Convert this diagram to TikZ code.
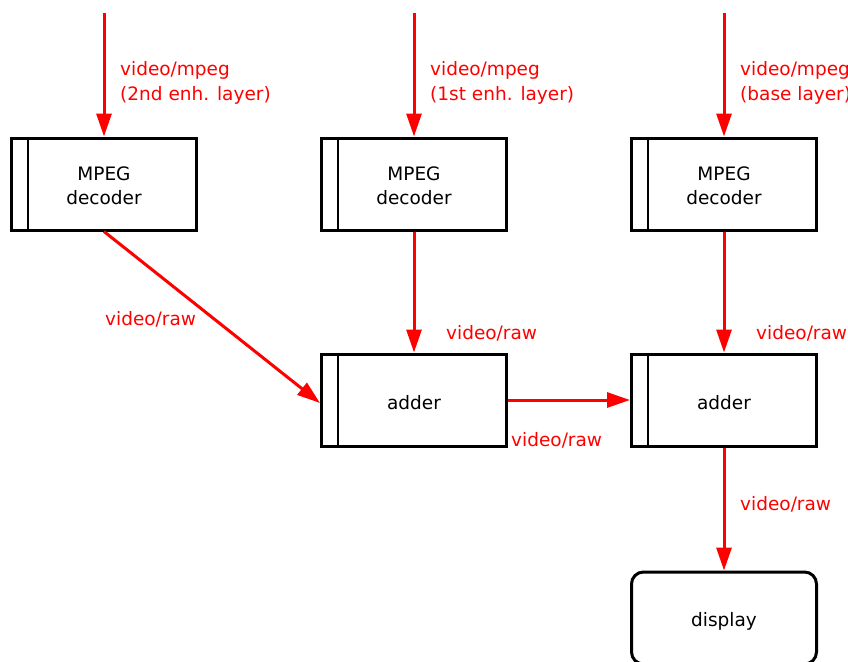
\documentclass[tikz,border=0pt]{standalone}
\usepackage{fontspec}
\setmainfont{DejaVu Sans}
\usetikzlibrary{arrows.meta}
\definecolor{pred}{RGB}{255,0,0}
\newcommand{\dn}[2]{\raisebox{#1}[\height][\depth]{#2}}
\begin{document}
\begin{tikzpicture}[x=1pt,y=-1pt,
  font=\fontsize{18.5}{25.5}\selectfont,
  elem/.style={draw=black,line width=3pt,minimum width=185pt,minimum height=92pt,inner sep=0pt,align=center,fill=white,font=\fontsize{18.5}{24}\selectfont},
  sink/.style={elem,rounded corners=12pt},
  flow/.style={draw=pred,line width=3pt,-{Triangle[length=23pt,width=15pt]}},
  lab/.style={text=pred,anchor=west,align=left,inner sep=0pt}]
\useasboundingbox (0,0) rectangle (848,661);
% elements
\node[elem] (dec1) at (104,184) {\dn{-3.5pt}{\begin{tabular}{@{}c@{}}MPEG\\decoder\end{tabular}}};
\node[elem] (dec2) at (414,184) {\dn{-3.5pt}{\begin{tabular}{@{}c@{}}MPEG\\decoder\end{tabular}}};
\node[elem] (dec3) at (724,184) {\dn{-3.5pt}{\begin{tabular}{@{}c@{}}MPEG\\decoder\end{tabular}}};
\node[elem] (add1) at (414,400) {\dn{-2.5pt}{adder}};
\node[elem] (add2) at (724,400) {\dn{-2.5pt}{adder}};
\node[sink] (disp) at (724,618) {\dn{-3.5pt}{display}};
% inner lines
\foreach \n in {dec1,dec2,dec3,add1,add2}
  \draw[line width=2.5pt] ([xshift=18pt]\n.north west) -- ([xshift=18pt]\n.south west);
% sources
\coordinate (s1) at (104,13);
\coordinate (s2) at (414,13);
\coordinate (s3) at (724,13);
\draw[flow] (s1) -- (dec1.north);
\draw[flow] (s2) -- (dec2.north);
\draw[flow] (s3) -- (dec3.north);
\draw[flow] (dec1.south) -- ([yshift=-3pt]add1.west);
\draw[flow] (dec2.south) -- (add1.north);
\draw[flow] (dec3.south) -- (add2.north);
\draw[flow] (add1.east) -- (add2.west);
\draw[flow] (add2.south) -- (disp.north);
% labels
\node[lab] (l1) at (120,83) {video/mpeg\\(2nd enh. layer)};
\node[lab] (l2) at (430,83) {video/mpeg\\(1st enh. layer)};
\node[lab] (l3) at (740,83) {video/mpeg\\(base layer)};
\node[lab] (l4) at (105,319) {video/raw};
\node[lab] (l5) at (446,333) {video/raw};
\node[lab] (l6) at (756,333) {video/raw};
\node[lab] (l7) at (511,440) {video/raw};
\node[lab] (l8) at (740,504) {video/raw};
\end{tikzpicture}
\end{document}
